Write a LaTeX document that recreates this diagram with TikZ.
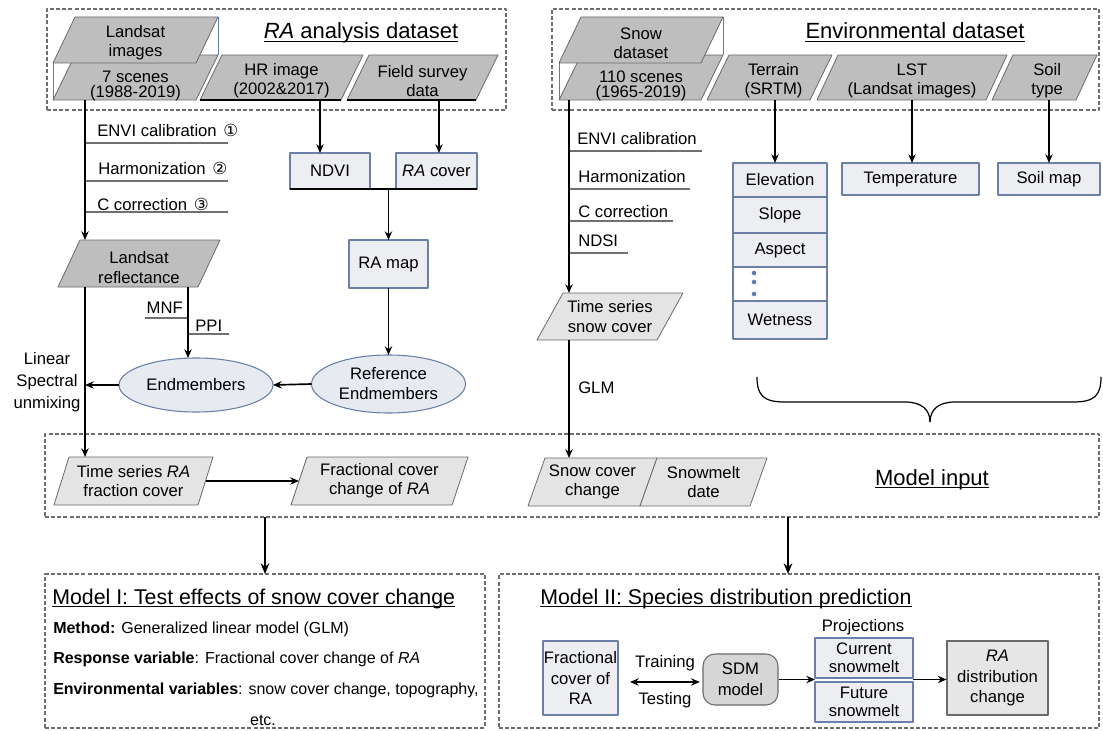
\documentclass[tikz,border=0pt]{standalone}
\usepackage{fontspec}
\setmainfont{Liberation Sans}
\newfontfamily\djv{DejaVu Sans}
\usetikzlibrary{shapes.geometric,arrows.meta,calc}
\definecolor{pgdark}{HTML}{BEBEBE}
\definecolor{pglight}{HTML}{E4E4E4}
\definecolor{pgline}{HTML}{6A6A6A}
\definecolor{bxfill}{HTML}{EDEEF1}
\definecolor{bxline}{HTML}{6A7FA9}
\definecolor{elfill}{HTML}{E7EAF0}
\definecolor{dashc}{HTML}{6E6E6E}
\definecolor{ulc}{HTML}{707070}
\definecolor{dotc}{HTML}{5B7BB5}
\definecolor{sdmfill}{HTML}{D6D6D6}
\definecolor{grayfill}{HTML}{E6E6E6}
\definecolor{stkc}{HTML}{5F7BAE}
\newcommand\pgram[9]{%
  \path[#7] ({#2-#4/2-#6/2},{#3+#5/2}) -- ({#2+#4/2-#6/2},{#3+#5/2}) -- ({#2+#4/2+#6/2},{#3-#5/2}) -- ({#2-#4/2+#6/2},{#3-#5/2}) -- cycle;
  \node[anchorbox, minimum width=#4*0.75pt, minimum height=#5*0.75pt] (#1) at (#2,#3) {};
  \node[ptext, #8] (#1t) at (#2,#3) {#9};
}
\begin{document}
\begin{tikzpicture}[x=0.75pt, y=-0.75pt, line join=round,
  every node/.style={font=\fontsize{12.5}{14.5}\selectfont},
  anchorbox/.style={rectangle, inner sep=0, outer sep=0, draw=none},
  ptext/.style={inner sep=0, align=center},
  dpg/.style={fill=pgdark, draw=pgline, line width=0.6pt},
  lpg/.style={fill=pglight, draw=pgline, line width=0.6pt},
  bx/.style={rectangle, draw=bxline, fill=bxfill, line width=0.8pt, inner sep=0, outer sep=0, align=center},
  el/.style={ellipse, draw=bxline, fill=elfill, line width=0.8pt, inner sep=0, outer sep=0, align=center},
  dbox/.style={rectangle, draw=dashc, dash pattern=on 3pt off 1.6pt, line width=0.9pt, inner sep=0, outer sep=0},
  arr/.style={-{Stealth[length=6.5pt,width=5.5pt]}, line width=1.25pt},
  arrb/.style={-{Stealth[length=8pt,width=6.5pt]}, line width=1.6pt},
  darr/.style={{Stealth[length=6.5pt,width=5.5pt]}-{Stealth[length=6.5pt,width=5.5pt]}, line width=1.25pt},
  thk/.style={line width=1.8pt},
  ulabel/.style={draw=ulc, line width=0.8pt},
  lab/.style={inner sep=0, anchor=base west},
  mlab/.style={inner sep=0, anchor=base west, font=\fontsize{12}{14}\selectfont},
  ttl/.style={inner sep=0, font=\fontsize{16.5}{19}\selectfont},
  uline/.style={line width=0.8pt},
  stk/.style={draw=stkc, line width=0.6pt}]
\useasboundingbox (0,0) rectangle (1103,731);

% ---------- dashed frames ----------
\node[dbox, minimum width=459*0.75pt, minimum height=101*0.75pt] (rad) at (276.5,59.5) {};
\node[dbox, minimum width=547*0.75pt, minimum height=101*0.75pt] (env) at (825.5,59.5) {};
\node[dbox, minimum width=1054*0.75pt, minimum height=83*0.75pt] (minput) at (572,475.5) {};
\node[dbox, minimum width=440*0.75pt, minimum height=154*0.75pt] (m1) at (265,651) {};
\node[dbox, minimum width=600*0.75pt, minimum height=154*0.75pt] (m2) at (799,651) {};

% ---------- titles ----------
\node[ttl, anchor=base] (t1) at (361,39) {\textit{RA} analysis dataset};
\node[ttl, anchor=base] (t2) at (915,39) {Environmental dataset};
\node[ttl, anchor=base] (t3) at (932,485) {Model input};
\node[ttl, anchor=base west, font=\fontsize{16}{19}\selectfont] (t4) at (52,604) {Model I: Test effects of snow cover change};
\node[ttl, anchor=base west, font=\fontsize{16}{19}\selectfont] (t5) at (540,604) {Model II: Species distribution prediction};
\foreach \t in {t1,t2,t3,t4,t5}{
  \draw[uline] ([yshift=-2.2pt]\t.base west) -- ([yshift=-2.2pt]\t.base east);
}

% ---------- helper x positions ----------
\coordinate (lx) at (85,0);
\coordinate (mx) at (188,0);
\coordinate (sx) at (569,0);
\coordinate (hx) at (320,0);
\coordinate (fx) at (439,0);
\coordinate (tx) at (775,0);
\coordinate (a1x) at (265,0);
\coordinate (a2x) at (788,0);

% ---------- RA analysis dataset ----------
\draw[stk] (53,63) -- (53,100);
\draw[stk] (218,17) -- (218,55);
\pgram{lsl}{135.5}{77.5}{143}{45}{22}{dpg}{yshift=-6.2pt, font=\fontsize{12.5}{11.5}\selectfont}{7 scenes\\(1988-2019)}
\pgram{lsu}{135.5}{40}{143}{46}{22}{dpg}{yshift=-2.2pt}{Landsat\\images}
\pgram{hr}{281.5}{77.5}{141}{45}{22}{dpg}{yshift=-2.6pt}{HR image\\(2002\&2017)}
\pgram{fs}{422.5}{77.5}{129}{45}{22}{dpg}{yshift=-2.6pt}{Field survey\\data}
\draw[thk] (200,100) -- (341,100);
\draw[thk] (347,100) -- (476,100);

% ---------- Environmental dataset ----------
\draw[stk] (559,63) -- (559,100);
\draw[stk] (723,17) -- (723,55);
\pgram{snl}{641}{77.5}{142}{45}{22}{dpg}{yshift=-6.2pt, font=\fontsize{12.5}{11.5}\selectfont}{110 scenes\\(1965-2019)}
\pgram{snu}{641}{40}{142}{46}{22}{dpg}{yshift=-2.2pt}{Snow\\dataset}
\pgram{ter}{769.5}{77.5}{103}{45}{22}{dpg}{yshift=-2.6pt, xshift=3pt}{Terrain\\(SRTM)}
\pgram{lst}{912}{77.5}{169}{45}{21}{dpg}{yshift=-2.6pt}{LST\\(Landsat images)}
\pgram{soil}{1044.5}{77.5}{84}{45}{21}{dpg}{yshift=-2.6pt, xshift=2pt}{Soil\\type}

% ---------- left processing chain ----------
\node[lab] (l1) at (97,137) {ENVI calibration\hspace{5pt}{\djv ①}};
\node[lab] (l2) at (98,175) {Harmonization\hspace{5pt}{\djv ②}};
\node[lab] (l3) at (97,210) {C correction\hspace{5pt}{\djv ③}};
\draw[ulabel] (85,143) -- (228,143);
\draw[ulabel] (85,181) -- (228,181);
\draw[ulabel] (85,212) -- (228,212);

\node[bx, minimum width=80*0.75pt, minimum height=36*0.75pt] (ndvi) at (330,171) {NDVI};
\node[bx, minimum width=81*0.75pt, minimum height=36*0.75pt] (racov) at (436.5,171) {\textit{RA} cover};
\node[bx, minimum width=79*0.75pt, minimum height=48*0.75pt] (ramap) at (388.5,264) {RA map};

\pgram{lref}{139}{263.5}{140}{47}{22}{dpg}{yshift=-3pt}{Landsat\\reflectance}

\node[el, minimum width=154*0.75pt, minimum height=54*0.75pt] (em) at (196,385) {Endmembers};
\node[el, minimum width=154*0.75pt, minimum height=58*0.75pt, font=\fontsize{12.5}{15}\selectfont] (refem) at (388.5,384) {Reference\\Endmembers};

\node[lab, anchor=base east] (mnf) at (183,313) {MNF};
\node[lab] (ppi) at (195,331) {PPI};
\draw[ulabel] (145,318) -- (188,318);
\draw[ulabel] (188,334) -- (229,334);

\node[ptext, font=\fontsize{12.5}{16.5}\selectfont] (lsu2) at (47,382) {Linear\\Spectral\\unmixing};

% ---------- snow chain ----------
\node[lab] (s1) at (577,145) {ENVI calibration};
\node[lab] (s2) at (578,183) {Harmonization};
\node[lab] (s3) at (578,218) {C correction};
\node[lab] (s4) at (578,246.5) {NDSI};
\draw[ulabel] (569,151) -- (702,151);
\draw[ulabel] (569,189) -- (690,189);
\draw[ulabel] (569,221) -- (673,221);
\draw[ulabel] (569,253) -- (628,253);

\pgram{tssc}{610}{316.5}{120}{47}{26}{lpg}{}{Time series\\snow cover}
\node[lab] (glm) at (578,393) {GLM};

% ---------- terrain table ----------
\node[bx, minimum width=94*0.75pt, minimum height=34*0.75pt] (elev) at (780,180) {Elevation};
\node[bx, minimum width=94*0.75pt, minimum height=36*0.75pt] (slope) at (780,215) {Slope};
\node[bx, minimum width=94*0.75pt, minimum height=34*0.75pt] (aspect) at (780,250) {Aspect};
\node[bx, fill=white, minimum width=94*0.75pt, minimum height=34*0.75pt] (dots) at (780,284) {};
\node[bx, minimum width=94*0.75pt, minimum height=38*0.75pt] (wet) at (780,320) {Wetness};
\fill[dotc] (754,273) circle[radius=1.7pt];
\fill[dotc] (754,282) circle[radius=1.7pt];
\fill[dotc] (754,294) circle[radius=1.7pt];
\node[bx, minimum width=137*0.75pt, minimum height=32*0.75pt] (temp) at (910.5,179) {Temperature};
\node[bx, minimum width=102*0.75pt, minimum height=32*0.75pt] (soilmap) at (1049,179) {Soil map};

% brace
\draw[line width=0.9pt] (757,377) .. controls (757,396) and (764,402) .. (785,402) -- (905,402) .. controls (922,402) and (930,410) .. (930,422);
\draw[line width=0.9pt] (1101,377) .. controls (1101,396) and (1094,402) .. (1073,402) -- (955,402) .. controls (938,402) and (930,410) .. (930,422);

% ---------- model input ----------
\pgram{tsra}{133.5}{481}{144}{48}{15}{lpg}{}{Time series \textit{RA}\\fraction cover}
\pgram{fcc}{379.5}{481}{161}{48}{16}{lpg}{}{Fractional cover\\change of \textit{RA}}
\pgram{scc}{592.5}{482}{112}{48}{17}{lpg}{}{Snow cover\\change}
\pgram{smd}{703.5}{482}{110}{48}{17}{lpg}{}{Snowmelt\\date}

% ---------- Model I ----------
\node[mlab] (mi1) at (53,633) {\textbf{Method:} Generalized linear model (GLM)};
\node[mlab] (mi2) at (53,663) {\textbf{Response variable}: Fractional cover change of \textit{RA}};
\node[mlab] (mi3) at (53,694) {\textbf{Environmental variables}: snow cover change, topography,};
\node[mlab, anchor=base] (mi4) at (263,725.5) {etc.};

% ---------- Model II ----------
\node[bx, minimum width=75*0.75pt, minimum height=74*0.75pt, font=\fontsize{12.5}{15.5}\selectfont] (fcra) at (580.5,678) {Fractional\\cover of\\RA};
\node[rectangle, rounded corners=9pt, draw=pgline, fill=sdmfill, line width=0.8pt, inner sep=0, align=center, minimum width=75*0.75pt, minimum height=51*0.75pt, font=\fontsize{12.5}{16}\selectfont] (sdm) at (740.5,679.5) {SDM\\model};
\node[bx, minimum width=98*0.75pt, minimum height=40*0.75pt, font=\fontsize{12.5}{13.5}\selectfont] (cur) at (864,658) {Current\\snowmelt};
\node[bx, minimum width=98*0.75pt, minimum height=40*0.75pt, font=\fontsize{12.5}{13.5}\selectfont] (fut) at (864,702) {Future\\snowmelt};
\node[rectangle, draw=pgline, fill=grayfill, line width=0.8pt, inner sep=0, align=center, minimum width=101*0.75pt, minimum height=74*0.75pt, font=\fontsize{12.5}{15.5}\selectfont] (radc) at (997.5,678) {\textit{RA}\\distribution\\change};
\node[ptext] (proj) at (863,627) {Projections};
\node[ptext] (train) at (665,663) {Training};
\node[ptext] (test) at (665,700) {Testing};

% ---------- connectors ----------
\draw[arr] (lsl.south -| lx) -- (lref.north -| lx);
\draw[arr] (hr.south -| hx) -- (ndvi.north -| hx);
\draw[arr] (fs.south -| fx) -- (racov.north -| fx);
\draw[thk] (ndvi.south west) -- (racov.south east);
\draw[arr] (ndvi.south -| ramap.north) -- (ramap.north);
\draw[arr] (ramap.south) -- (refem.north);
\draw[arr] (refem.west) -- (em.east);
\draw[arr] (em.west) -- (em.west -| lx);
\draw[arr] (lref.south -| mx) -- (em.north -| mx);
\draw[arr] (lref.south -| lx) -- (tsra.north -| lx);
\draw[arr] (tsra.east) -- (fcc.west);
\draw[arr] (snl.south -| sx) -- (tssc.north -| sx);
\draw[arr] (tssc.south -| sx) -- (scc.north -| sx);
\draw[arr] (ter.south -| tx) -- (elev.north -| tx);
\draw[arr] (lst.south) -- (lst.south |- temp.north);
\draw[arr] (soilmap.north |- soil.south) -- (soilmap.north);
\draw[arrb] (minput.south -| a1x) -- (m1.north -| a1x);
\draw[arrb] (minput.south -| a2x) -- (m2.north -| a2x);
\draw[darr, shorten <=9pt, shorten >=2pt] ([yshift=-3pt]fcra.east) -- ([yshift=-3pt]fcra.east -| sdm.west);
\draw[arr] (sdm.east) -- (sdm.east -| cur.west);
\draw[arr] (sdm.east -| cur.east) -- (sdm.east -| radc.west);
\end{tikzpicture}
\end{document}
